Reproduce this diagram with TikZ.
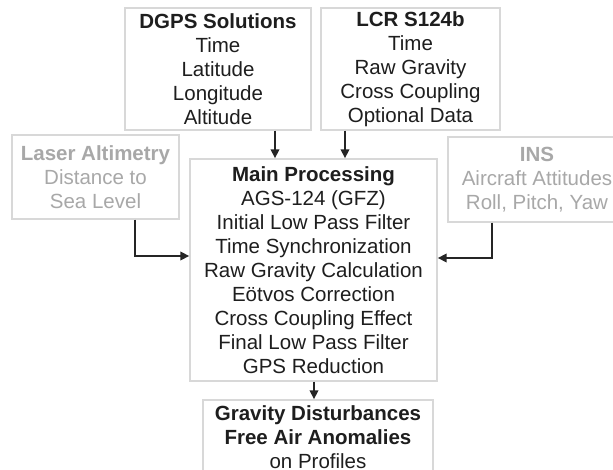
\documentclass[tikz,border=0pt]{standalone}
\usepackage{fontspec}
\setmainfont{Liberation Sans}
\usetikzlibrary{arrows.meta}
\definecolor{boxline}{HTML}{D8D8D8}
\definecolor{grayText}{HTML}{A8A8A8}
\definecolor{darkText}{HTML}{1E1E1E}
\definecolor{arrowCol}{HTML}{252525}
\tikzset{
  box/.style={draw=boxline, line width=1.4pt, rectangle, inner sep=0pt, align=center,
    font=\fontsize{20.5}{24}\selectfont, text=darkText},
  grayBox/.style={box, text=grayText},
  arr/.style={draw=arrowCol, line width=1.8pt, -{Triangle[length=9pt,width=8.5pt]}}
}
\begin{document}
\begin{tikzpicture}[x=1pt,y=-1pt]
\useasboundingbox (0,0) rectangle (613,470);
\fill[white] (0,0) rectangle (613,470);
\node[box, minimum width=186pt, minimum height=122pt] (dgps) at (218,69)
  {\textbf{DGPS Solutions}\\Time\\Latitude\\Longitude\\Altitude};
\node[box, minimum width=179pt, minimum height=122pt] (lcr) at (410.5,69)
  {\textbf{LCR S124b}\\Time\\Raw Gravity\\Cross Coupling\\Optional Data};
\node[grayBox, minimum width=167pt, minimum height=84pt] (laser) at (95.5,177)
  {\textbf{Laser Altimetry}\\Distance to\\Sea Level};
\node[grayBox, minimum width=178pt, minimum height=85pt] (ins) at (537,179.5)
  {\textbf{INS}\\Aircraft Attitudes\\Roll, Pitch, Yaw};
\node[box, minimum width=247pt, minimum height=222pt] (main) at (313.5,270)
  {\textbf{Main Processing}\\AGS-124 (GFZ)\\Initial Low Pass Filter\\Time Synchronization\\Raw Gravity Calculation\\Eötvos Correction\\Cross Coupling Effect\\Final Low Pass Filter\\GPS Reduction};
\node[box, minimum width=230pt, minimum height=74pt] (grav) at (318,437)
  {\textbf{Gravity Disturbances}\\\textbf{Free Air Anomalies}\\on Profiles};
\coordinate (xa) at (275,0);
\coordinate (xb) at (345,0);
\coordinate (lx) at (135,256);
\coordinate (ix) at (492,258);
\coordinate (gx) at (314,0);
\draw[arr] (dgps.south -| xa) -- (main.north -| xa);
\draw[arr] (lcr.south -| xb) -- (main.north -| xb);
\draw[arr] (laser.south -| lx) |- (main.west |- lx);
\draw[arr] (ins.south -| ix) |- (main.east |- ix);
\draw[arr] (main.south -| gx) -- (grav.north -| gx);
\end{tikzpicture}
\end{document}
